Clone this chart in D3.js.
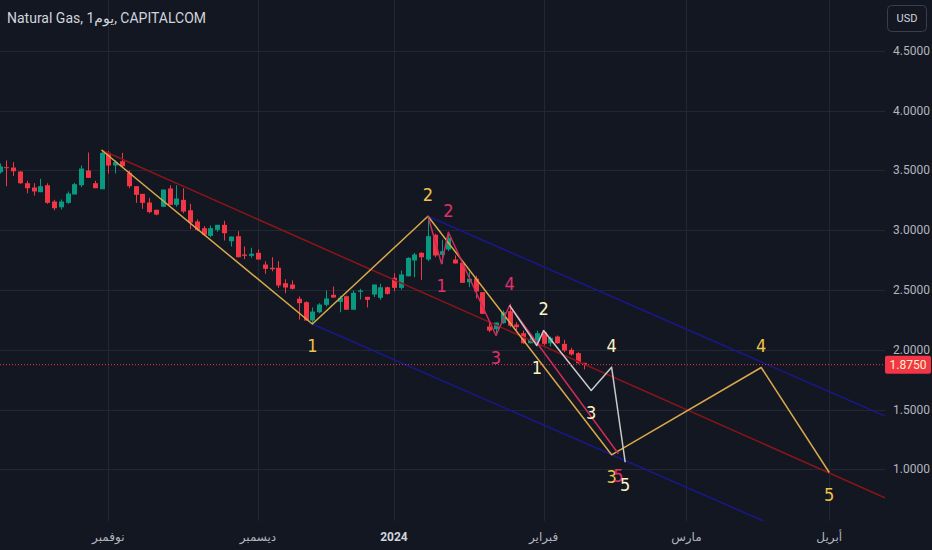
<!DOCTYPE html>
<html lang="en">
<head>
    <meta charset="UTF-8">
    <title>Natural Gas, 1D, CAPITALCOM</title>
    <script src="https://d3js.org/d3.v7.min.js"></script>
    <style>
        body {
            margin: 0;
            background: #131722;
            overflow: hidden;
        }
        svg text {
            font-family: Roboto, "Noto Sans", "DejaVu Sans", sans-serif;
        }
        .axis-label {
            font-size: 12px;
            fill: #b2b5be;
        }
        .wave-label {
            font-size: 18px;
            font-family: "Liberation Sans Narrow", "DejaVu Sans Condensed", Roboto, sans-serif;
        }
    </style>
</head>
<body>
    <div id="chart"></div>
    <script>
        // daily candles, bar index 0 = first visible bar (Oct 2023)
        const opens = [
            3.484, 3.526, 3.523, 3.490, 3.392, 3.356, 3.317, 3.375, 3.239, 3.191,
            3.228, 3.298, 3.375, 3.498, 3.392, 3.342, 3.646, 3.540, 3.576, 3.479,
            3.367, 3.303, 3.231, 3.170, 3.195, 3.348, 3.211, 3.253, 3.166, 3.072,
            3.016, 2.952, 3.002, 3.044, 2.907, 2.949, 2.796, 2.785, 2.810, 2.712,
            2.685, 2.685, 2.556, 2.545, 2.426, 2.397, 2.244, 2.313, 2.375, 2.459,
            2.400, 2.447, 2.334, 2.484, 2.442, 2.461, 2.434, 2.522, 2.601, 2.517,
            2.614, 2.746, 2.810, 2.754, 2.961, 2.793, 2.838, 2.754, 2.727, 2.564,
            2.595, 2.481, 2.194, 2.171, 2.222, 2.322, 2.211, 2.138, 2.054, 2.077,
            2.146, 2.054, 2.110, 2.049, 1.999, 1.971, 1.890
        ];
        const highs = [
            3.557, 3.582, 3.568, 3.492, 3.412, 3.392, 3.429, 3.392, 3.253, 3.256,
            3.323, 3.395, 3.540, 3.649, 3.412, 3.671, 3.661, 3.582, 3.646, 3.498,
            3.367, 3.303, 3.270, 3.170, 3.339, 3.375, 3.375, 3.350, 3.220, 3.089,
            3.033, 3.038, 3.044, 3.078, 2.946, 2.991, 2.863, 2.852, 2.838, 2.740,
            2.773, 2.740, 2.589, 2.579, 2.445, 2.405, 2.353, 2.389, 2.495, 2.528,
            2.451, 2.453, 2.495, 2.509, 2.442, 2.545, 2.551, 2.528, 2.640, 2.662,
            2.773, 2.810, 2.815, 3.116, 2.969, 2.919, 2.980, 2.788, 2.727, 2.648,
            2.618, 2.481, 2.230, 2.227, 2.328, 2.384, 2.230, 2.160, 2.104, 2.160,
            2.160, 2.110, 2.119, 2.083, 2.016, 1.979, 1.890
        ];
        const lows = [
            3.473, 3.367, 3.451, 3.387, 3.308, 3.289, 3.317, 3.220, 3.166, 3.172,
            3.220, 3.298, 3.359, 3.437, 3.350, 3.342, 3.473, 3.473, 3.526, 3.350,
            3.228, 3.178, 3.141, 3.124, 3.195, 3.211, 3.195, 3.141, 3.008, 2.991,
            2.952, 2.941, 2.986, 2.913, 2.863, 2.773, 2.757, 2.768, 2.754, 2.635,
            2.656, 2.517, 2.472, 2.503, 2.252, 2.244, 2.211, 2.305, 2.361, 2.436,
            2.313, 2.334, 2.334, 2.420, 2.353, 2.439, 2.417, 2.461, 2.489, 2.501,
            2.614, 2.606, 2.584, 2.740, 2.773, 2.718, 2.824, 2.721, 2.559, 2.522,
            2.428, 2.300, 2.146, 2.119, 2.216, 2.188, 2.160, 2.049, 2.052, 2.063,
            2.035, 2.027, 2.049, 1.979, 1.951, 1.882, 1.835
        ];
        const closes = [
            3.532, 3.521, 3.492, 3.392, 3.350, 3.323, 3.367, 3.228, 3.183, 3.239,
            3.306, 3.384, 3.515, 3.437, 3.350, 3.646, 3.540, 3.568, 3.534, 3.367,
            3.295, 3.228, 3.150, 3.130, 3.339, 3.211, 3.264, 3.155, 3.063, 3.002,
            2.961, 3.016, 3.044, 2.974, 2.946, 2.773, 2.785, 2.802, 2.754, 2.676,
            2.673, 2.537, 2.520, 2.509, 2.389, 2.244, 2.319, 2.378, 2.428, 2.436,
            2.434, 2.334, 2.476, 2.495, 2.417, 2.545, 2.522, 2.467, 2.517, 2.629,
            2.768, 2.796, 2.773, 2.949, 2.788, 2.824, 2.936, 2.721, 2.559, 2.593,
            2.487, 2.300, 2.160, 2.227, 2.313, 2.200, 2.188, 2.054, 2.085, 2.138,
            2.049, 2.099, 2.054, 1.993, 1.960, 1.887, 1.875
        ];

        // time axis: month labels at the bar of the first session of each month
        const monthLabels = ["نوفمبر", "ديسمبر", "2024", "فبراير", "مارس", "أبريل"];
        const monthBars = [16, 38, 58, 80, 101, 122];

        const priceTicks = [1.0, 1.5, 2.0, 2.5, 3.0, 3.5, 4.0, 4.5];
        const lastPrice = 1.875;

        // elliott waves: [bar, price] pivots, first point is the wave origin
        const goldWave = [[15, 3.67], [46, 2.215], [63, 3.116], [90, 1.121], [112, 1.851], [122, 0.973]];
        const redWave = [[63, 3.116], [65, 2.718], [66, 2.982], [73, 2.119], [75, 2.370], [91, 1.130]];
        const whiteWave = [[75, 2.370], [79, 2.035], [80, 2.160], [87, 1.659], [90, 1.854], [92, 1.059]];
        const waveNames = ["1", "2", "3", "4", "5"];

        // channel lines
        const maroonLine = [[15, 3.67], [130.2, 0.762]];
        const upperBlueLine = [[63, 3.116], [130.2, 1.446]];
        const lowerBlueLine = [[46, 2.215], [112.5, 0.564]];

        const width = 932;
        const height = 550;
        const plotW = 885;
        const plotH = 521;

        const x = d3.scaleLinear().domain([0, 130.2]).range([-0.5, plotW]);
        const y = d3.scaleLinear().domain([1, 4.5]).range([469.3, 50.7]);

        const svg = d3.select("#chart")
            .append("svg")
            .attr("width", width)
            .attr("height", height)
            .style("display", "block");

        svg.append("rect")
            .attr("width", width)
            .attr("height", height)
            .attr("fill", "#131722");

        svg.append("defs").append("clipPath")
            .attr("id", "plot-clip")
            .append("rect")
            .attr("width", plotW)
            .attr("height", plotH);

        // grid
        const grid = svg.append("g");
        grid.selectAll(".hgrid")
            .data(priceTicks)
            .enter()
            .append("line")
            .attr("x1", 0)
            .attr("x2", plotW)
            .attr("y1", d => Math.round(y(d)) + 0.5)
            .attr("y2", d => Math.round(y(d)) + 0.5)
            .attr("stroke", "#232733")
            .attr("stroke-width", 1);

        grid.selectAll(".vgrid")
            .data(monthBars)
            .enter()
            .append("line")
            .attr("x1", d => Math.round(x(d)) + 0.5)
            .attr("x2", d => Math.round(x(d)) + 0.5)
            .attr("y1", 0)
            .attr("y2", plotH)
            .attr("stroke", "#232733")
            .attr("stroke-width", 1);

        const plot = svg.append("g").attr("clip-path", "url(#plot-clip)");

        // candles
        const candles = plot.append("g")
            .selectAll("g")
            .data(opens.map((o, i) => ({i: i, o: o, h: highs[i], l: lows[i], c: closes[i]})))
            .enter()
            .append("g");

        const upColor = "#089981";
        const downColor = "#f23645";

        candles.append("line")
            .attr("x1", d => Math.round(x(d.i)) + 0.5)
            .attr("x2", d => Math.round(x(d.i)) + 0.5)
            .attr("y1", d => y(d.h))
            .attr("y2", d => y(d.l))
            .attr("stroke", d => d.c >= d.o ? upColor : downColor)
            .attr("stroke-width", 1);

        candles.append("rect")
            .attr("x", d => Math.round(x(d.i)) - 2)
            .attr("width", 5)
            .attr("y", d => y(Math.max(d.o, d.c)))
            .attr("height", d => Math.max(1, Math.abs(y(d.o) - y(d.c))))
            .attr("fill", d => d.c >= d.o ? upColor : downColor);

        // channel lines
        const line = d3.line().x(d => x(d[0])).y(d => y(d[1]));

        plot.append("path")
            .datum(maroonLine)
            .attr("d", line)
            .attr("fill", "none")
            .attr("stroke", "#8c1519")
            .attr("stroke-width", 1.5);

        [upperBlueLine, lowerBlueLine].forEach(pts => {
            plot.append("path")
                .datum(pts)
                .attr("d", line)
                .attr("fill", "none")
                .attr("stroke", "#181889")
                .attr("stroke-width", 1.5);
        });

        // waves
        const waves = [
            {pts: goldWave, line: "#d8a94a", text: "#efc24a"},
            {pts: redWave, line: "#cf2c59", text: "#e0306a"},
            {pts: whiteWave, line: "#c9c9c9", text: "#fcf4c4"}
        ];

        waves.forEach(w => {
            plot.append("path")
                .datum(w.pts)
                .attr("d", line)
                .attr("fill", "none")
                .attr("stroke", w.line)
                .attr("stroke-width", 1.5)
                .attr("stroke-linejoin", "round");
        });

        // current price dotted line
        plot.append("line")
            .attr("x1", 0)
            .attr("x2", plotW)
            .attr("y1", y(lastPrice))
            .attr("y2", y(lastPrice))
            .attr("stroke", "#f23645")
            .attr("stroke-width", 1)
            .attr("stroke-dasharray", "1,2");

        // wave labels: lows labelled below, highs above
        waves.forEach(w => {
            svg.append("g")
                .selectAll("text")
                .data(w.pts.slice(1))
                .enter()
                .append("text")
                .attr("class", "wave-label")
                .attr("x", d => x(d[0]))
                .attr("y", (d, i) => {
                    const prev = w.pts[i][1];
                    return d[1] < prev ? y(d[1]) + 22 : y(d[1]) - 22;
                })
                .attr("text-anchor", "middle")
                .attr("dominant-baseline", "central")
                .attr("fill", w.text)
                .text((d, i) => waveNames[i]);
        });

        // price axis
        svg.append("g")
            .selectAll("text")
            .data(priceTicks)
            .enter()
            .append("text")
            .attr("class", "axis-label")
            .attr("x", 893)
            .attr("y", d => y(d))
            .attr("dominant-baseline", "central")
            .text(d => d.toFixed(4));

        svg.append("rect")
            .attr("x", plotW)
            .attr("y", y(lastPrice) - 9)
            .attr("width", 46)
            .attr("height", 18)
            .attr("rx", 2)
            .attr("fill", "#f23645");

        svg.append("text")
            .attr("x", plotW + 23)
            .attr("y", y(lastPrice))
            .attr("text-anchor", "middle")
            .attr("dominant-baseline", "central")
            .style("font-size", "12px")
            .attr("fill", "#fff3c6")
            .text(lastPrice.toFixed(4));

        // USD button
        svg.append("rect")
            .attr("x", 887.5)
            .attr("y", 5.5)
            .attr("width", 39)
            .attr("height", 26)
            .attr("rx", 4)
            .attr("fill", "#131722")
            .attr("stroke", "#3a3e4a");

        svg.append("text")
            .attr("x", 907)
            .attr("y", 18.5)
            .attr("text-anchor", "middle")
            .attr("dominant-baseline", "central")
            .style("font-size", "11px")
            .attr("fill", "#d1d4dc")
            .text("USD");

        // time axis
        svg.append("g")
            .selectAll("text")
            .data(monthBars)
            .enter()
            .append("text")
            .attr("class", "axis-label")
            .attr("x", d => x(d))
            .attr("y", 537)
            .attr("text-anchor", "middle")
            .attr("dominant-baseline", "central")
            .style("font-weight", (d, i) => monthLabels[i] === "2024" ? "bold" : "normal")
            .style("fill", (d, i) => monthLabels[i] === "2024" ? "#d1d4dc" : "#b2b5be")
            .text((d, i) => monthLabels[i]);

        // title
        svg.append("text")
            .attr("x", 7)
            .attr("y", 18)
            .attr("dominant-baseline", "central")
            .style("font-size", "14px")
            .attr("fill", "#d1d4dc")
            .text("Natural Gas, 1يوم, CAPITALCOM");
    </script>
</body>
</html>
